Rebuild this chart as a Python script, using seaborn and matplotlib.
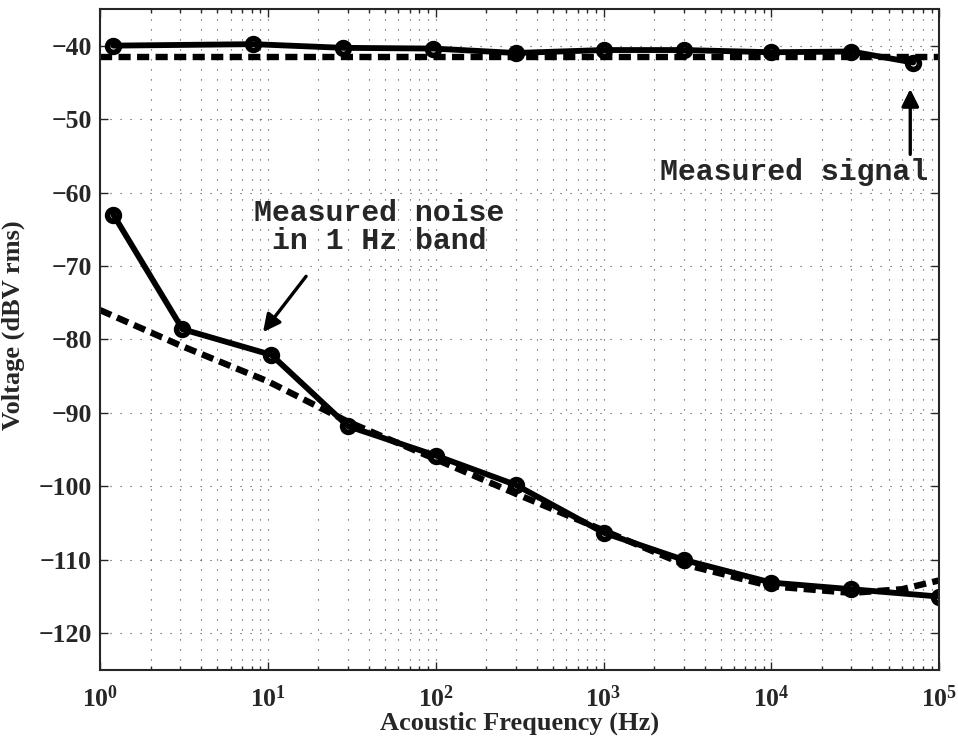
import matplotlib
matplotlib.use('Agg')
import matplotlib.pyplot as plt
import matplotlib.ticker as mticker
import numpy as np
import pandas as pd
import seaborn as sns

# measured signal and its model level
sig_freq = [1.2, 8.2, 28, 97, 300, 1000, 3000, 10000, 30000, 70000]
sig_db = [-40.0, -39.8, -40.3, -40.4, -41.0, -40.6, -40.6, -40.9, -40.8, -42.3]
sig_model_freq = [1, 100000]
sig_model_db = [-41.6, -41.6]

# measured noise in 1 Hz band and its model
noise_freq = [1.2, 3.1, 10.5, 30, 100, 300, 1000, 3000, 10000, 30000, 100000]
noise_db = [-63.0, -78.6, -82.1, -91.8, -95.8, -99.8, -106.3, -110.0, -113.1, -114.0, -115.0]
model_freq = [1, 3, 10, 30, 100, 300, 1000, 3000, 10000, 30000, 60000, 100000]
model_db = [-76.0, -80.8, -85.7, -91.2, -96.3, -101.0, -106.0, -110.6, -113.6, -114.5, -114.0, -112.8]

sns.set_style('ticks')
plt.rcParams['font.family'] = ['Liberation Serif', 'DejaVu Serif']
plt.rcParams['font.weight'] = 'bold'
plt.rcParams['mathtext.default'] = 'regular'

fig = plt.figure(figsize=(9.58, 7.42), dpi=100)
ax = fig.add_axes([0.1044, 0.097, 0.876, 0.891])

dash = (0, (1.9, 1.0))
sns.lineplot(x=sig_model_freq, y=sig_model_db, ax=ax, color='black', lw=4.6,
             linestyle=dash, estimator=None, sort=False)
sns.lineplot(x=model_freq, y=model_db, ax=ax, color='black', lw=4.6,
             linestyle=dash, estimator=None, sort=False)
for f, v in [(sig_freq, sig_db), (noise_freq, noise_db)]:
    sns.lineplot(x=f, y=v, ax=ax, color='black', lw=4.2, marker='o',
                 markersize=8.5, markeredgewidth=4, markerfacecolor='none',
                 markeredgecolor='black', estimator=None, sort=False)
for ln in ax.lines:
    ln.set_dash_capstyle('butt')

ax.set_xscale('log')
ax.set_xlim(1, 1e5)
ax.set_ylim(-125, -35)
ax.set_yticks(np.arange(-120, -35, 10))
ax.yaxis.set_major_formatter(mticker.FuncFormatter(lambda v, p: '\u2212%d' % abs(v)))
ax.xaxis.set_major_locator(mticker.LogLocator(base=10, numticks=10))
ax.xaxis.set_minor_locator(mticker.LogLocator(base=10, subs=np.arange(2, 10), numticks=20))
ax.xaxis.set_minor_formatter(mticker.NullFormatter())

ax.grid(True, which='major', axis='both', color='#444444', lw=0.8, linestyle=(0, (1, 8)))
ax.grid(True, which='minor', axis='x', color='#444444', lw=0.8, linestyle=(0, (1, 8)))
ax.tick_params(which='both', direction='in', top=True, right=True, labelsize=18.5, width=1.0)
ax.tick_params(which='major', length=6)
ax.tick_params(axis='x', which='major', pad=11)
ax.tick_params(axis='y', which='major', pad=6)
ax.tick_params(which='minor', length=3)
for lab in ax.get_xticklabels() + ax.get_yticklabels():
    lab.set_fontweight('bold')
for s in ax.spines.values():
    s.set_linewidth(1.5)

ax.set_xlabel('Acoustic Frequency (Hz)', fontsize=19, fontweight='bold', labelpad=0)
ax.set_ylabel('Voltage (dBV rms)', fontsize=19, fontweight='bold')
ax.yaxis.set_label_coords(-0.089, 0.522)

mono = dict(family=['Liberation Mono', 'DejaVu Sans Mono'], fontsize=21.5, fontweight='bold')
ax.text(46, -64.7, 'Measured noise\nin 1 Hz band', ha='center', va='center',
        multialignment='center', linespacing=1.0, **mono)
ax.text(13670, -57.2, 'Measured signal', ha='center', va='center', **mono)
arrow = dict(arrowstyle='-|>', lw=2.4, color='black', mutation_scale=26, shrinkA=0, shrinkB=0)
ax.annotate('', xy=(9.36, -79.0), xytext=(16.9, -71.4), arrowprops=arrow)
ax.annotate('', xy=(67200, -45.9), xytext=(67200, -54.8), arrowprops=arrow)

fig.savefig('out.png', dpi=100)
